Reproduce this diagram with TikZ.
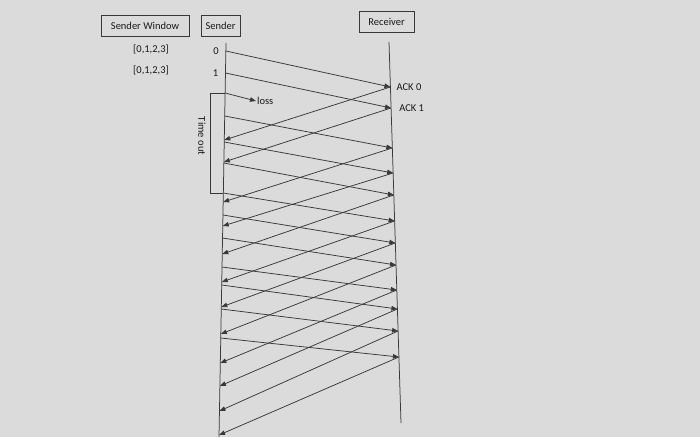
\documentclass[tikz,border=0pt]{standalone}
\usepackage{fontspec}
\setmainfont{Carlito}
\usetikzlibrary{arrows.meta,positioning,calc}

\begin{document}
\begin{tikzpicture}[x=1pt,y=-1pt,
    font=\fontsize{10.5}{12}\selectfont,
    ink/.style={draw=black!78,line width=0.75pt},
    msg/.style={ink,-{Triangle[length=6pt,width=4.5pt]}},
    hdr/.style={ink,minimum height=21pt,inner sep=2pt,text=black!90},
    lbl/.style={text=black!90,inner sep=1pt}]
  \fill[black!14] (0,0) rectangle (700,437);
  \useasboundingbox (0,0) rectangle (700,437);
  % headers
  \node[hdr,minimum width=88pt] (win) at (145,26)   {Sender Window};
  \node[hdr,minimum width=39pt] (snd) at (220.5,26) {Sender};
  \node[hdr,minimum width=55pt] (rcv) at (386.5,22) {Receiver};
  % life lines
  \coordinate (st) at (226,43);
  \coordinate (sb) at (219,437);
  \coordinate (rt) at (389,42);
  \coordinate (rb) at (401,423);
  \draw[ink] (st) -- (sb);
  \draw[ink] (rt) -- (rb);
  % send / receive / ack points
  \foreach \i/\ds/\rr/\aa in {1/51/87/140, 2/73/108/162, 3/116/148/202,
      4/142/173/226, 5/163/195/254, 6/193/221/282, 7/215/243/307,
      8/238/265/334, 9/267/290/363, 10/285/309/386, 11/309/331/411,
      12/338/357/435}{
    \coordinate (d\i) at ($(st)!{(\ds-43)/394}!(sb)$);
    \coordinate (r\i) at ($(rt)!{(\rr-42)/381}!(rb)$);
    \coordinate (a\i) at ($(st)!{(\aa-43)/394}!(sb)$);
  }
  \coordinate (dl) at ($(st)!{(93-43)/394}!(sb)$);
  \coordinate (lost) at (256,101);
  % frames and acks
  \foreach \i in {1,...,12}{
    \draw[msg] (d\i) -- (r\i);
    \draw[msg] (r\i) -- (a\i);
  }
  \draw[msg] (dl) -- (lost);
  \node[lbl] (losslbl) [right=0pt of lost] {loss};
  % labels
  \node[lbl] (n0) [left=6pt of d1] {0};
  \node[lbl] (n1) [left=6pt of d2] {1};
  \node[lbl] (w0) at (151,49) {[0,1,2,3]};
  \node[lbl] (w1) at (151,70) {[0,1,2,3]};
  \node[lbl] (ack0) [right=5pt of r1] {ACK 0};
  \node[lbl] (ack1) [right=7pt of r2] {ACK 1};
  % time out
  \draw[ink] (dl) -- ++(-15,0) |- (d6);
  \node[lbl,rotate=-90] (tout) at (202,136) {Time out};
\end{tikzpicture}
\end{document}
